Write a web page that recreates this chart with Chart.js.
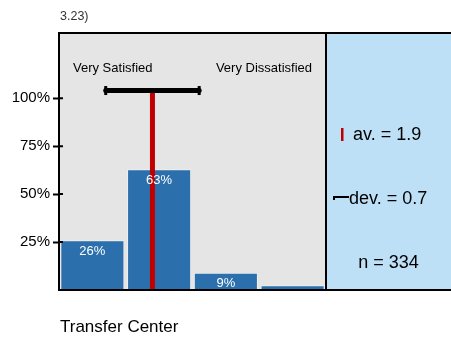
<!DOCTYPE html>
<html>
<head>
    <meta charset="UTF-8">
    <title>Transfer Center</title>
    <style>
        body {
            margin: 0;
            padding: 0;
            background: #fff;
            font-family: 'Liberation Sans', Arial, sans-serif;
        }
        #chart {
            display: block;
        }
    </style>
</head>
<body>
<canvas id="chart" width="451" height="339"></canvas>
<script src="https://cdn.jsdelivr.net/npm/chart.js"></script>
<script>
    // data
    const categories = ['Very Satisfied', '2', '3', 'Very Dissatisfied'];
    const shares = [26, 63, 9, 2.5];
    const shareLabels = ['26%', '63%', '9%', ''];
    const yTicks = [25, 50, 75, 100];
    const average = 1.9;
    const deviation = 0.7;
    const count = 334;
    const markerLevel = 104; // height of the deviation bar, in %

    const FONT = "'Liberation Sans', Arial, sans-serif";
    const BAR_DATASET = 2;

    const decorations = {
        id: 'decorations',
        beforeDraw(chart) {
            const { ctx, chartArea: a, width } = chart;
            ctx.save();
            ctx.fillStyle = '#e5e5e5';
            ctx.fillRect(a.left, a.top, a.right - a.left, a.bottom - a.top);
            ctx.fillStyle = '#bee0f6';
            ctx.fillRect(a.right, a.top, width - a.right, a.bottom - a.top);
            ctx.restore();
        },
        afterDatasetsDraw(chart) {
            const { ctx } = chart;
            const meta = chart.getDatasetMeta(BAR_DATASET);
            ctx.save();
            ctx.fillStyle = '#fff';
            ctx.font = '13px ' + FONT;
            ctx.textAlign = 'center';
            ctx.textBaseline = 'middle';
            meta.data.forEach((bar, i) => {
                if (shareLabels[i]) ctx.fillText(shareLabels[i], bar.x, bar.y + 11);
            });
            ctx.restore();
        },
        afterDraw(chart) {
            const { ctx, chartArea: a, width, scales } = chart;
            ctx.save();
            // frame
            ctx.strokeStyle = '#000';
            ctx.lineWidth = 2;
            ctx.beginPath();
            ctx.moveTo(a.left, a.top); ctx.lineTo(width, a.top);
            ctx.moveTo(a.right, a.top); ctx.lineTo(a.right, a.bottom);
            ctx.moveTo(a.left, a.bottom); ctx.lineTo(width, a.bottom);
            ctx.stroke();
            // inner part of the y ticks
            ctx.beginPath();
            yTicks.forEach(v => {
                const y = scales.y.getPixelForValue(v);
                ctx.moveTo(a.left, y); ctx.lineTo(a.left + 4, y);
            });
            ctx.stroke();

            // scale end labels
            ctx.fillStyle = '#000';
            ctx.font = '13px ' + FONT;
            ctx.textBaseline = 'middle';
            ctx.textAlign = 'left';
            ctx.fillText(categories[0], a.left + 14, 68);
            ctx.textAlign = 'right';
            ctx.fillText(categories[3], a.right - 14, 68);

            // titles
            ctx.textAlign = 'left';
            ctx.fillStyle = '#333';
            ctx.font = '12.5px ' + FONT;
            ctx.fillText('3.23)', a.left + 1, 17);
            ctx.fillStyle = '#000';
            ctx.font = '17px ' + FONT;
            ctx.fillText('Transfer Center', a.left + 1, 327);

            // side panel
            const mid = (a.right + width) / 2;
            ctx.font = '18px ' + FONT;
            ctx.fillStyle = '#000';
            ctx.fillText('av. = ' + average, a.right + 27, 135);
            ctx.fillText('dev. = ' + deviation, a.right + 23, 199);
            ctx.textAlign = 'center';
            ctx.fillText('n = ' + count, mid, 263);

            ctx.fillStyle = '#c00000';
            ctx.fillRect(a.right + 15, 128, 2.5, 13);
            ctx.fillStyle = '#000';
            ctx.fillRect(a.right + 8, 196, 15, 2);
            ctx.fillRect(a.right + 7, 196, 2, 4);
            ctx.restore();
        }
    };

    const ctx = document.getElementById('chart').getContext('2d');
    new Chart(ctx, {
        type: 'bar',
        data: {
            labels: categories,
            datasets: [
                {
                    type: 'line',
                    xAxisID: 'x2',
                    data: [
                        { x: average - deviation, y: markerLevel },
                        { x: average + deviation, y: markerLevel }
                    ],
                    borderColor: '#000',
                    backgroundColor: '#000',
                    borderWidth: 5,
                    borderCapStyle: 'round',
                    pointStyle: 'line',
                    rotation: 90,
                    pointRadius: 4.5,
                    pointBorderWidth: 3,
                    pointBorderColor: '#000',
                    order: 0
                },
                {
                    type: 'line',
                    xAxisID: 'x2',
                    data: [
                        { x: average, y: 0 },
                        { x: average, y: markerLevel }
                    ],
                    borderColor: '#c00000',
                    borderWidth: 5,
                    pointRadius: 0,
                    order: 1
                },
                {
                    xAxisID: 'x',
                    data: shares,
                    backgroundColor: '#2c6fad',
                    borderColor: 'rgba(255,255,255,0.4)',
                    borderWidth: 1,
                    barPercentage: 0.96,
                    categoryPercentage: 1,
                    grouped: false,
                    order: 2
                }
            ]
        },
        options: {
            responsive: false,
            animation: false,
            layout: { padding: { left: 0, top: 33, right: 125, bottom: 49 } },
            plugins: {
                legend: { display: false },
                tooltip: { enabled: false }
            },
            scales: {
                x: { type: 'category', offset: true, display: false },
                x2: { type: 'linear', min: 0.5, max: 4.5, offset: false, display: false },
                y: {
                    min: 0,
                    max: 134,
                    afterBuildTicks: scale => { scale.ticks = yTicks.map(v => ({ value: v })); },
                    afterFit: scale => { scale.width = 59; },
                    border: { display: true, color: '#000', width: 2 },
                    grid: {
                        drawOnChartArea: false,
                        drawTicks: true,
                        tickLength: 6,
                        tickColor: '#000',
                        tickWidth: 2
                    },
                    ticks: {
                        padding: 3,
                        color: '#000',
                        font: { family: FONT, size: 15 },
                        callback: v => v + '%'
                    }
                }
            }
        },
        plugins: [decorations]
    });
</script>
</body>
</html>
